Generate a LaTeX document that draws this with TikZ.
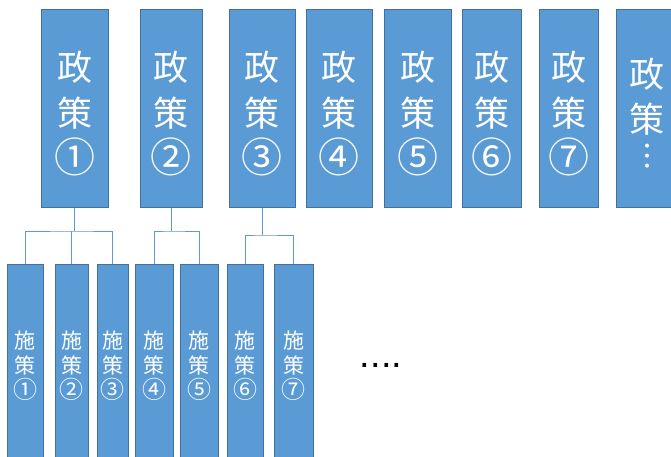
\documentclass[tikz,border=0pt]{standalone}
\usepackage{fontspec}
\newfontfamily\cjk{Noto Sans CJK JP}
\setmainfont{Liberation Sans}
\definecolor{boxfill}{HTML}{5B9BD5}
\definecolor{boxline}{HTML}{41719C}
\definecolor{connc}{HTML}{5B9BD5}
\newcommand\bigcnum[1]{{\fontsize{41}{46}\selectfont #1}}
\newcommand\smallcnum[1]{{\fontsize{24}{26}\selectfont #1}}
\tikzset{
  policy/.style={draw=boxline, fill=boxfill, line width=1pt, inner sep=0pt,
    minimum height=197pt},
  policytext/.style={inner sep=0pt, text=white, align=center,
    font=\cjk\fontsize{35}{46}\selectfont},
  measure/.style={draw=boxline, fill=boxfill, line width=1pt, inner sep=0pt,
    minimum height=204pt, text=white, align=center,
    font=\cjk\fontsize{21}{25}\selectfont},
  conn/.style={draw=connc, line width=0.9pt}
}
\begin{document}
\begin{tikzpicture}[x=1pt,y=-1pt]
\useasboundingbox (0,0) rectangle (671,457);
\fill[white] (0,0) rectangle (671,457);
% top policies
\node[policy, minimum width=67pt, label={[policytext, yshift=-5pt]center:{政\\策\\\bigcnum{①}}}] (p1) at (74.5,108.5) {};
\node[policy, minimum width=62pt, label={[policytext, yshift=-5pt]center:{政\\策\\\bigcnum{②}}}] (p2) at (171,108.5) {};
\node[policy, minimum width=66pt, label={[policytext, yshift=-5pt]center:{政\\策\\\bigcnum{③}}}] (p3) at (262,108.5) {};
\node[policy, minimum width=66pt, label={[policytext, yshift=-5pt]center:{政\\策\\\bigcnum{④}}}] (p4) at (339,108.5) {};
\node[policy, minimum width=67pt, label={[policytext, yshift=-5pt]center:{政\\策\\\bigcnum{⑤}}}] (p5) at (417.5,108.5) {};
\node[policy, minimum width=59pt, label={[policytext, yshift=-5pt]center:{政\\策\\\bigcnum{⑥}}}] (p6) at (491.5,108.5) {};
\node[policy, minimum width=59pt, label={[policytext, yshift=-5pt]center:{政\\策\\\bigcnum{⑦}}}] (p7) at (568.5,108.5) {};
\node[policy, minimum width=62pt] (p8) at (647,108.5) {};
\node[policytext, font=\cjk\fontsize{35}{45}\selectfont] (p8t) at (647,113) {政\\策\\[-10pt]{\fontsize{30}{30}\selectfont ︙}};
% measures
\node[measure, minimum width=36pt] (c1) at (25,366) {施\\策\\\smallcnum{①}};
\node[measure, minimum width=33pt] (c2) at (71.5,366) {施\\策\\\smallcnum{②}};
\node[measure, minimum width=31pt] (c3) at (112.5,366) {施\\策\\\smallcnum{③}};
\node[measure, minimum width=38pt] (c4) at (154,366) {施\\策\\\smallcnum{④}};
\node[measure, minimum width=38pt] (c5) at (199,366) {施\\策\\\smallcnum{⑤}};
\node[measure, minimum width=36pt] (c6) at (245,366) {施\\策\\\smallcnum{⑥}};
\node[measure, minimum width=39pt] (c7) at (293.5,366) {施\\策\\\smallcnum{⑦}};
\node[font=\fontsize{38}{40}\selectfont, inner sep=0pt] (dots) at (381,365) {....};
% connectors
\coordinate (j1) at (p1.south |- 0,231);
\coordinate (j2) at (p2.south |- 0,231);
\coordinate (j3) at (p3.south |- 0,235);
\draw[conn] (p1.south) -- (j1);
\draw[conn] (c1.north) |- (j1) -| (c3.north);
\draw[conn] (c2.north) -- (c2.north |- j1);
\draw[conn] (p2.south) -- (j2);
\draw[conn] (c4.north) |- (j2) -| (c5.north);
\draw[conn] (p3.south) -- (j3);
\draw[conn] (c6.north) |- (j3) -| (c7.north);
\end{tikzpicture}
\end{document}
